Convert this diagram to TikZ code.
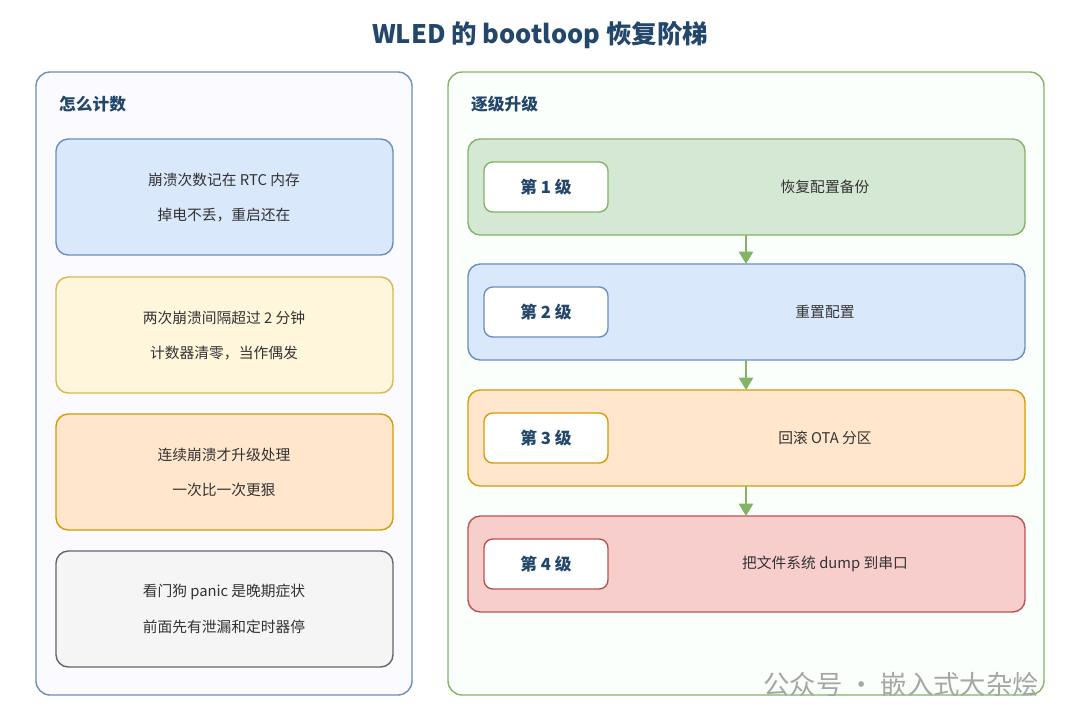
\documentclass[tikz,border=0pt]{standalone}
\usepackage{fontspec}
\setmainfont{Noto Sans CJK SC}
\usetikzlibrary{arrows.meta}
\definecolor{titleblue}{HTML}{23476B}
\definecolor{blueF}{HTML}{DAE8FC}\definecolor{blueD}{HTML}{6C8EBF}
\definecolor{yelF}{HTML}{FFF6DC}\definecolor{yelD}{HTML}{D6B656}
\definecolor{oraF}{HTML}{FFE6CC}\definecolor{oraD}{HTML}{D79B00}
\definecolor{grayF}{HTML}{F5F5F5}\definecolor{grayD}{HTML}{666666}
\definecolor{greF}{HTML}{D5E8D4}\definecolor{greD}{HTML}{82B366}
\definecolor{redF}{HTML}{F8CECC}\definecolor{redD}{HTML}{B85450}
\tikzset{
  panel/.style={rounded corners=8pt, line width=0.8pt},
  card/.style={rounded corners=7pt, line width=0.8pt},
  body/.style={font=\fontsize{8.4}{10}\selectfont, text=black!80},
  head/.style={font=\bfseries\fontsize{9.5}{11}\selectfont, text=titleblue, anchor=west},
  tag/.style={draw, fill=white, rounded corners=5pt, line width=0.8pt, minimum width=2.48cm, minimum height=1cm,
    font=\bfseries\fontsize{9.5}{11}\selectfont, text=titleblue},
  ladder arrow/.style={-{Triangle[length=7pt,width=8pt]}, greD, line width=1.3pt}
}
\begin{document}
\begin{tikzpicture}[x=0.02cm, y=-0.02cm]
\useasboundingbox (0,0) rectangle (1080,727);
%title
\node[font=\bfseries\fontsize{14.5}{17}\selectfont, text=titleblue] (title) at (540,35) {WLED 的 bootloop 恢复阶梯};
%left panel
\draw[panel, fill=blue!2, draw=blueD] (36,72) rectangle (412,695);
\node[head] (count) at (53,104) {怎么计数};
\foreach \y/\f/\d/\la/\lb [count=\i] in {
  139/blueF/blueD/崩溃次数记在 RTC 内存/掉电不丢，重启还在,
  277/yelF/yelD/两次崩溃间隔超过 2 分钟/计数器清零，当作偶发,
  414/oraF/oraD/连续崩溃才升级处理/一次比一次更狠,
  551/grayF/grayD/看门狗 panic 是晚期症状/前面先有泄漏和定时器停}{
  \draw[card, fill=\f, draw=\d] (56,\y) rectangle (393,\y+116);
  \node[body] (la\i) at (224,\y+41) {\la};
  \node[body] (lb\i) at (224,\y+76) {\lb};
}
%right panel
\draw[panel, fill=green!1.5, draw=greD] (448,72) rectangle (1044,695);
\node[head] (ladder) at (465,104) {逐级升级};
\foreach \y/\f/\d/\t [count=\i] in {
  139/greF/greD/恢复配置备份,
  264/blueF/blueD/重置配置,
  390/oraF/oraD/回滚 OTA 分区,
  516/redF/redD/把文件系统 dump 到串口}{
  \draw[card, fill=\f, draw=\d] (468,\y) rectangle (1025,\y+96);
  \coordinate (top\i) at (746,\y);
  \coordinate (bot\i) at (746,\y+96);
  \node[tag, draw=\d] (tag\i) at (546,\y+48) {第 \i{} 级};
  \node[body] (txt\i) at (825,\y+48) {\t};
}
\draw[ladder arrow] (bot1) -- (top2);
\draw[ladder arrow] (bot2) -- (top3);
\draw[ladder arrow] (bot3) -- (top4);
%watermark
\node[font=\fontsize{15}{17}\selectfont, text=black!35, anchor=east] (mark) at (1045,684) {公众号 · 嵌入式大杂烩};
\end{tikzpicture}
\end{document}
